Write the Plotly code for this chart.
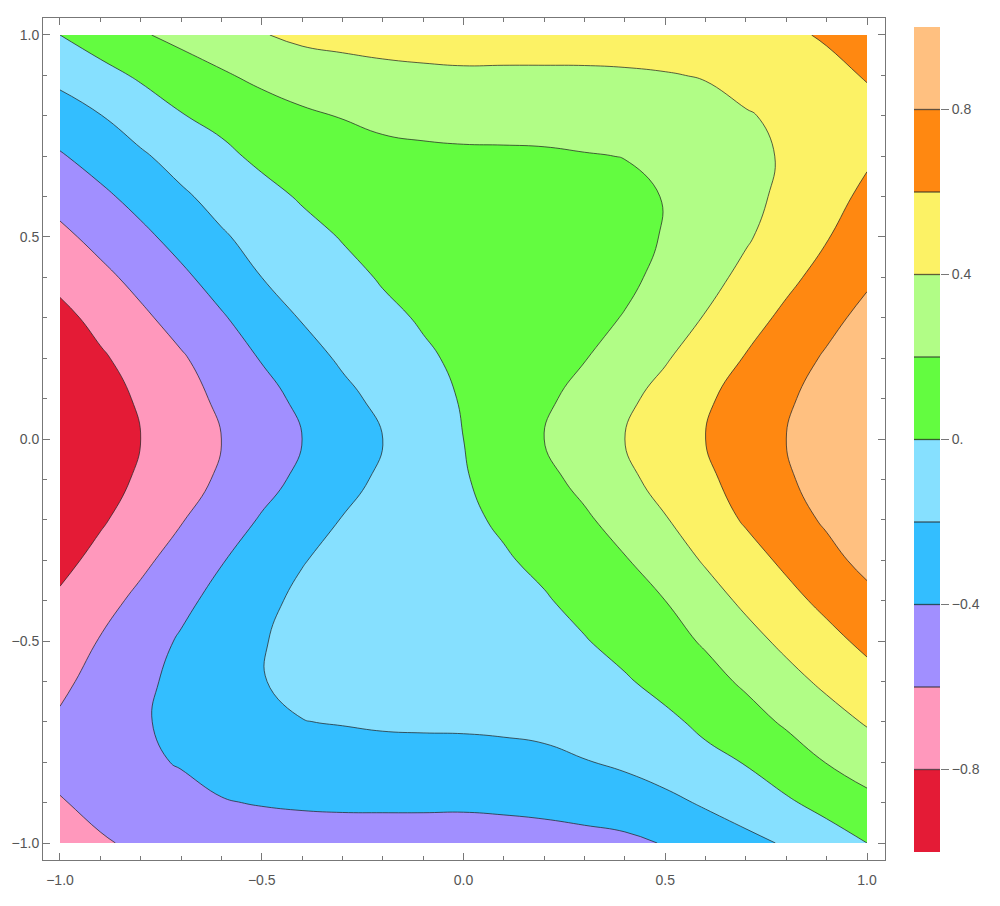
import plotly.graph_objects as go

# grid coordinates
x_vals = [-1.0, -0.9, -0.8, -0.7, -0.6, -0.5, -0.4, -0.3, -0.2, -0.1, 0.0,
          0.1, 0.2, 0.3, 0.4, 0.5, 0.6, 0.7, 0.8, 0.9, 1.0]
y_vals = [-1.0, -0.9, -0.8, -0.7, -0.6, -0.5, -0.4, -0.3, -0.2, -0.1, 0.0,
          0.1, 0.2, 0.3, 0.4, 0.5, 0.6, 0.7, 0.8, 0.9, 1.0]

# values (rows: y = -1.0 ... 1.0)
z_values = [
    [-0.68, -0.615, -0.575, -0.54, -0.51, -0.50, -0.49, -0.49, -0.49, -0.49, -0.49, -0.48, -0.47, -0.455, -0.44, -0.39, -0.32, -0.254, -0.18, -0.09, 0.00],
    [-0.61, -0.56, -0.515, -0.47, -0.41, -0.39, -0.378, -0.371, -0.37, -0.37, -0.372, -0.365, -0.352, -0.33, -0.295, -0.248, -0.177, -0.10, -0.025, 0.06, 0.15],
    [-0.555, -0.50, -0.44, -0.385, -0.34, -0.31, -0.294, -0.274, -0.266, -0.266, -0.267, -0.257, -0.239, -0.207, -0.17, -0.108, -0.051, 0.009, 0.107, 0.205, 0.289],
    [-0.575, -0.50, -0.42, -0.35, -0.29, -0.24, -0.203, -0.192, -0.18, -0.175, -0.172, -0.165, -0.155, -0.135, -0.095, -0.04, 0.043, 0.132, 0.224, 0.322, 0.417],
    [-0.64, -0.534, -0.437, -0.355, -0.283, -0.205, -0.167, -0.152, -0.14, -0.125, -0.11, -0.095, -0.08, -0.06, -0.019, 0.059, 0.14, 0.228, 0.337, 0.439, 0.533],
    [-0.706, -0.59, -0.483, -0.381, -0.297, -0.21, -0.15, -0.13, -0.115, -0.1, -0.085, -0.06, -0.04, -0.01, 0.062, 0.137, 0.22, 0.335, 0.444, 0.543, 0.644],
    [-0.771, -0.665, -0.556, -0.444, -0.342, -0.247, -0.16, -0.14, -0.11, -0.09, -0.07, -0.045, -0.016, 0.055, 0.127, 0.2, 0.321, 0.437, 0.543, 0.647, 0.748],
    [-0.853, -0.747, -0.64, -0.527, -0.41, -0.314, -0.21, -0.14, -0.11, -0.085, -0.055, -0.018, 0.041, 0.114, 0.188, 0.301, 0.419, 0.528, 0.636, 0.744, 0.853],
    [-0.935, -0.822, -0.716, -0.611, -0.497, -0.384, -0.287, -0.193, -0.14, -0.088, -0.035, 0.026, 0.1, 0.174, 0.274, 0.389, 0.506, 0.62, 0.722, 0.825, 0.935],
    [-0.984, -0.878, -0.773, -0.675, -0.574, -0.465, -0.36, -0.26, -0.169, -0.091, -0.014, 0.069, 0.153, 0.249, 0.359, 0.464, 0.566, 0.671, 0.776, 0.88, 0.984],
    [-1.0, -0.9, -0.8, -0.7, -0.6, -0.5, -0.4, -0.3, -0.2, -0.1, 0.0, 0.1, 0.2, 0.3, 0.4, 0.5, 0.6, 0.7, 0.8, 0.9, 1.0],
    [-0.984, -0.88, -0.776, -0.671, -0.566, -0.464, -0.359, -0.249, -0.153, -0.069, 0.014, 0.091, 0.169, 0.26, 0.36, 0.465, 0.574, 0.675, 0.773, 0.878, 0.984],
    [-0.935, -0.825, -0.722, -0.62, -0.506, -0.389, -0.274, -0.174, -0.1, -0.026, 0.035, 0.088, 0.14, 0.193, 0.287, 0.384, 0.497, 0.611, 0.716, 0.822, 0.935],
    [-0.853, -0.744, -0.636, -0.528, -0.419, -0.301, -0.188, -0.114, -0.041, 0.018, 0.055, 0.085, 0.11, 0.14, 0.21, 0.314, 0.41, 0.527, 0.64, 0.747, 0.853],
    [-0.748, -0.647, -0.543, -0.437, -0.321, -0.2, -0.127, -0.055, 0.016, 0.045, 0.07, 0.09, 0.11, 0.14, 0.16, 0.247, 0.342, 0.444, 0.556, 0.665, 0.771],
    [-0.644, -0.543, -0.444, -0.335, -0.22, -0.137, -0.062, 0.01, 0.04, 0.06, 0.085, 0.1, 0.115, 0.13, 0.15, 0.21, 0.297, 0.381, 0.483, 0.59, 0.706],
    [-0.533, -0.439, -0.337, -0.228, -0.14, -0.059, 0.019, 0.06, 0.08, 0.095, 0.11, 0.125, 0.14, 0.152, 0.167, 0.205, 0.283, 0.355, 0.437, 0.534, 0.64],
    [-0.417, -0.322, -0.224, -0.132, -0.043, 0.04, 0.095, 0.135, 0.155, 0.165, 0.172, 0.175, 0.18, 0.192, 0.203, 0.24, 0.29, 0.35, 0.42, 0.50, 0.575],
    [-0.289, -0.205, -0.107, -0.009, 0.051, 0.108, 0.17, 0.207, 0.239, 0.257, 0.267, 0.266, 0.266, 0.274, 0.294, 0.31, 0.34, 0.385, 0.44, 0.50, 0.555],
    [-0.15, -0.06, 0.025, 0.10, 0.177, 0.248, 0.295, 0.33, 0.352, 0.365, 0.372, 0.37, 0.37, 0.371, 0.378, 0.39, 0.41, 0.47, 0.515, 0.56, 0.61],
    [0.00, 0.09, 0.18, 0.254, 0.32, 0.39, 0.44, 0.455, 0.47, 0.48, 0.49, 0.49, 0.49, 0.49, 0.49, 0.50, 0.51, 0.54, 0.575, 0.615, 0.68],
]

# contour bands: edges and colours, lowest to highest
band_edges = [-1.0, -0.8, -0.6, -0.4, -0.2, 0.0, 0.2, 0.4, 0.6, 0.8, 1.0]
band_colors = ["#E41B36", "#FF98BC", "#A18FFF", "#33BEFF", "#86E0FF",
               "#63FC40", "#B1FD86", "#FCF265", "#FF8811", "#FFC080"]
contour_levels = band_edges[1:-1]
cbar_tickvals = [-0.8, -0.4, 0.0, 0.4, 0.8]
cbar_ticktext = ["\u22120.8", "\u22120.4", "0.", "0.4", "0.8"]
axis_tickvals = [-1.0, -0.5, 0.0, 0.5, 1.0]
axis_ticktext = ["\u22121.0", "\u22120.5", "0.0", "0.5", "1.0"]

n = len(band_colors)
colorscale = [[i / (n - 1), c] for i, c in enumerate(band_colors)]
band_centers = [(band_edges[i] + band_edges[i + 1]) / 2 for i in range(n)]
step = band_edges[1] - band_edges[0]

LINE_COL = "rgba(35,35,35,0.72)"
AX_COL = "#777"
FONT = dict(family="Liberation Sans", size=14, color="#555")

W, H = 1000, 906
L, R, T, B = 43, 60, 18, 46
area_w = W - L - R
area_h = H - T - B

fig = go.Figure()

fig.add_trace(go.Contour(
    x=x_vals, y=y_vals, z=z_values,
    autocontour=False,
    contours=dict(start=contour_levels[0], end=contour_levels[-1], size=step, coloring="fill"),
    colorscale=colorscale, showscale=False,
    line=dict(color=LINE_COL, width=1, smoothing=1.3),
    hoverinfo="skip",
))

# legend bar drawn as a heatmap on its own axes
fig.add_trace(go.Heatmap(
    x=[0, 1], y=band_edges, z=[[c] for c in band_centers],
    colorscale=colorscale, zmin=band_centers[0], zmax=band_centers[-1],
    showscale=False, hoverinfo="skip",
    xaxis="x2", yaxis="y2",
))

for lv in contour_levels:
    fig.add_shape(type="line", xref="x2 domain", yref="y2",
                  x0=0, x1=1, y0=lv, y1=lv,
                  line=dict(color=LINE_COL, width=1.3))

axis_common = dict(
    showgrid=False, zeroline=False,
    showline=True, linecolor=AX_COL, linewidth=1, mirror="allticks",
    ticks="inside", ticklen=7, tickcolor=AX_COL, tickwidth=1,
    tickmode="array", tickvals=axis_tickvals, ticktext=axis_ticktext,
    tickfont=FONT,
    minor=dict(dtick=0.1, tick0=0, ticks="inside", ticklen=4, tickcolor=AX_COL, showgrid=False),
)

main_right = (885 - L) / area_w
cb_left = (914 - L) / area_w
cb_right = (940 - L) / area_w
cb_bottom = (H - B - 852) / area_h
cb_top = (H - B - 27) / area_h

fig.update_layout(
    width=W, height=H,
    margin=dict(l=L, r=R, t=T, b=B),
    paper_bgcolor="white", plot_bgcolor="white",
    xaxis=dict(domain=[0, main_right], range=[-1.0421, 1.0446],
               ticklabelstandoff=7, **axis_common),
    yaxis=dict(domain=[0, 1], range=[-1.042, 1.042], **axis_common),
    xaxis2=dict(domain=[cb_left, cb_right], range=[0, 1], anchor="y2",
                visible=False, fixedrange=True),
    yaxis2=dict(domain=[cb_bottom, cb_top], range=[-1, 1], anchor="x2", side="right",
                showgrid=False, zeroline=False, showline=False,
                tickmode="array", tickvals=cbar_tickvals, ticktext=cbar_ticktext,
                ticks="outside", ticklen=8, tickcolor=AX_COL, tickwidth=1,
                tickfont=FONT, fixedrange=True),
    showlegend=False,
)

fig.write_html("out.html")
